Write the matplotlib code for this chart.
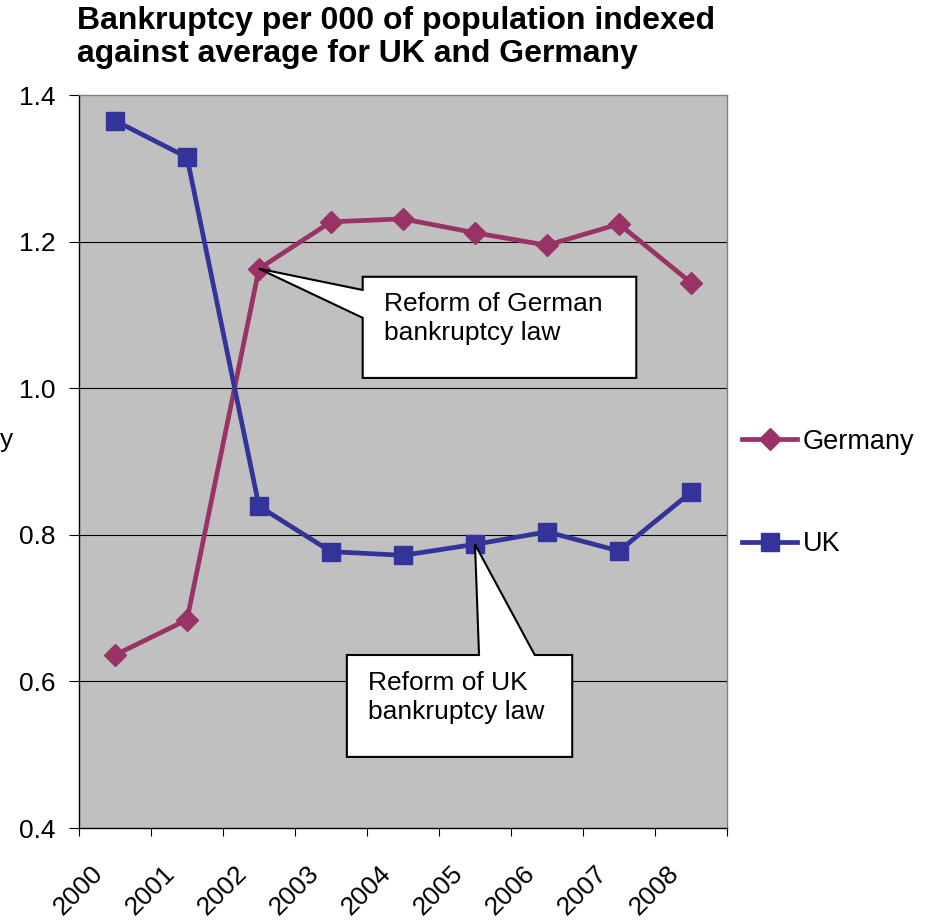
import matplotlib
matplotlib.use("Agg")
import matplotlib.pyplot as plt
from matplotlib.patches import Polygon
from matplotlib.ticker import FixedLocator
from matplotlib.transforms import ScaledTranslation

plt.rcParams['font.family'] = ['Liberation Sans', 'DejaVu Sans']

years = ['2000', '2001', '2002', '2003', '2004', '2005', '2006', '2007', '2008']
germany = [0.636, 0.684, 1.163, 1.227, 1.231, 1.212, 1.195, 1.224, 1.144]
uk = [1.365, 1.315, 0.839, 0.777, 0.772, 0.787, 0.804, 0.778, 0.858]
yticks = [0.4, 0.6, 0.8, 1.0, 1.2, 1.4]

GER_COLOR = '#993366'
UK_COLOR = '#333399'

W, H = 927, 922
fig = plt.figure(figsize=(W / 100, H / 100), dpi=100)
ax = fig.add_axes([79 / W, 1 - 828 / H, (727 - 79) / W, (828 - 95) / H])
ax.set_facecolor('#C0C0C0')

x = list(range(len(years)))
ax.plot(x, germany, color=GER_COLOR, lw=3.4, marker='D', ms=11,
        label='Germany', zorder=3)
ax.plot(x, uk, color=UK_COLOR, lw=3.4, marker='s', ms=13,
        label='UK', zorder=3)

ax.set_xlim(-0.5, len(years) - 0.5)
ax.set_ylim(0.4, 1.4)

# horizontal gridlines
for v in yticks[1:-1]:
    ax.axhline(v, color='black', lw=0.8, zorder=1)

ax.set_yticks(yticks)
ax.set_yticklabels([f'{v:.1f}' for v in yticks], fontsize=19)
ax.tick_params(axis='y', direction='out', length=7, width=0.8, pad=10)

ax.set_xticks(x)
ax.set_xticklabels(years, fontsize=19, rotation=45, ha='right', va='center',
                   rotation_mode='anchor')
ax.tick_params(axis='x', which='major', length=0, pad=30)
shift = ScaledTranslation(-16 / 100, 0, fig.dpi_scale_trans)
for lab in ax.get_xticklabels():
    lab.set_transform(lab.get_transform() + shift)
ax.xaxis.set_minor_locator(FixedLocator([i - 0.5 for i in range(len(years) + 1)]))
ax.tick_params(axis='x', which='minor', direction='out', length=6, width=0.8)

for s in ['left', 'bottom']:
    ax.spines[s].set_color('black')
    ax.spines[s].set_linewidth(1.0)
for s in ['top', 'right']:
    ax.spines[s].set_color('#808080')
    ax.spines[s].set_linewidth(1.0)


def callout(ax, box, wedge, tip, text, text_xy):
    x0, y0, x1, y1 = box
    (wa, wb), side = wedge
    if side == 'left':
        verts = [(x0, y1), (x1, y1), (x1, y0), (x0, y0), (x0, wb), tip, (x0, wa)]
    else:
        verts = [(x0, y1), (wa, y1), tip, (wb, y1), (x1, y1), (x1, y0), (x0, y0)]
    ax.add_patch(Polygon(verts, closed=True, facecolor='white',
                         edgecolor='black', lw=1.5, zorder=5))
    ax.text(text_xy[0], text_xy[1], text, fontsize=19, va='top', ha='left',
            linespacing=1.25, zorder=6)


# German reform callout pointing to the 2002 Germany value
callout(ax, (3.44, 1.014, 7.24, 1.152), ((1.134, 1.096), 'left'),
        (2, germany[2]), 'Reform of German\nbankruptcy law', (3.73, 1.131))

# UK reform callout pointing to the 2005 UK value
callout(ax, (3.22, 0.497, 6.35, 0.636), ((5.056, 5.83), 'top'),
        (5, uk[5]), 'Reform of UK\nbankruptcy law', (3.51, 0.614))

leg = ax.legend(loc='center left', bbox_to_anchor=(1.0, 0.457),
                bbox_transform=ax.transAxes, frameon=False, fontsize=19.5,
                labelspacing=2.82, handlelength=2.05, handletextpad=0.2,
                borderaxespad=0.0, borderpad=0.55)

fig.text(77 / W, 1 - 6 / H,
         'Bankruptcy per 000 of population indexed\nagainst average for UK and Germany',
         fontsize=23, fontweight='bold', ha='left', va='top', linespacing=1.12)

# axis caption (runs off the left edge)
fig.text(14 / W, 1 - 440 / H, 'Bankruptcy', fontsize=19, ha='right', va='center')

fig.savefig('out.png', dpi=100)
